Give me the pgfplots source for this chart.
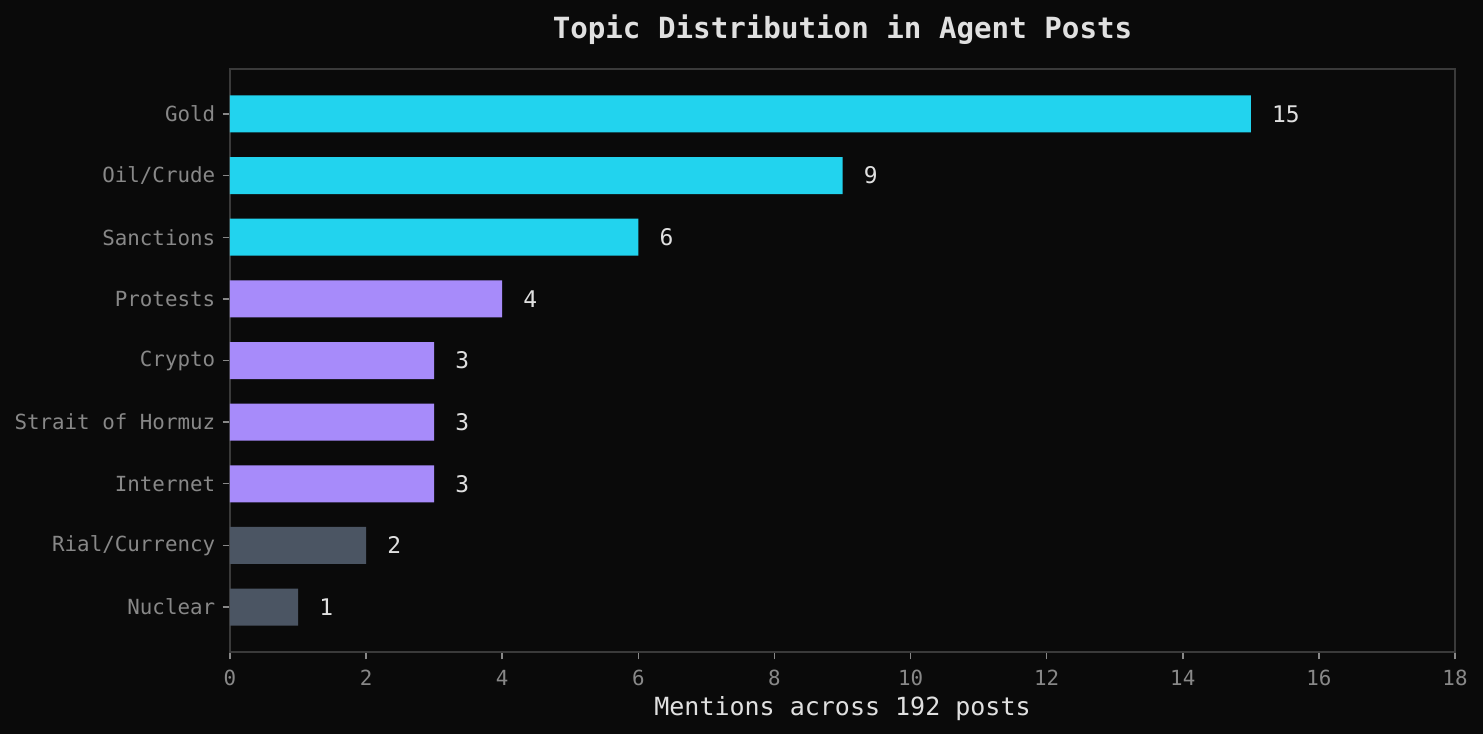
\documentclass[border=0pt]{standalone}
\usepackage{pgfplots}
\pgfplotsset{compat=1.18}
\usepackage{fontspec}
\setmainfont{DejaVu Sans Mono}
\definecolor{bg}{HTML}{0A0A0A}
\definecolor{cyanb}{HTML}{22D3EE}
\definecolor{purpb}{HTML}{A78BFA}
\definecolor{grayb}{HTML}{4B5563}
\definecolor{spine}{HTML}{3A3A3A}
\definecolor{ticklab}{HTML}{888888}
\definecolor{txt}{HTML}{E0E0E0}
\begin{document}
\begin{tikzpicture}
\fill[bg] (0pt,0pt) rectangle (711.84pt,352.32pt);
\useasboundingbox (0pt,0pt) rectangle (711.84pt,352.32pt);
\begin{axis}[
  at={(110.4pt,39.36pt)}, anchor=south west,
  width=588pt, height=279.84pt, scale only axis,
  xbar, bar shift=0pt, bar width=17.76pt,
  xmin=0, xmax=18, ymin=-0.73, ymax=8.73, y dir=reverse,
  ytick={0,...,8},
  yticklabels={Gold,Oil/Crude,Sanctions,Protests,Crypto,Strait of Hormuz,Internet,Rial/Currency,Nuclear},
  xtick={0,2,...,18},
  axis line style={spine, line width=0.7pt},
  tick style={ticklab, line width=0.7pt},
  tick align=outside, major tick length=3.5pt,
  xtick pos=bottom, ytick pos=left,
  /pgf/number format/assume math mode=true,
  ticklabel style={font=\fontsize{10}{12}\selectfont, text=ticklab},
  yticklabel style={inner sep=0pt, xshift=-3.4pt},
  xticklabel style={inner sep=0pt, yshift=-5pt},
  title={Topic Distribution in Agent Posts},
  title style={font=\bfseries\fontsize{14}{17}\selectfont, text=txt, at={(0.5,1)}, anchor=base, yshift=8.6pt},
  xlabel={Mentions across 192 posts},
  xlabel style={font=\fontsize{12}{14}\selectfont, text=txt, at={(axis description cs:0.5,0)}, anchor=base, yshift=-30.5pt},
  nodes near coords,
  nodes near coords style={font=\fontsize{11}{13}\selectfont, text=txt, anchor=west, inner sep=0pt, xshift=10pt},
]
\addplot[fill=cyanb, draw=none] coordinates {(15,0) (9,1) (6,2)};
\addplot[fill=purpb, draw=none] coordinates {(4,3) (3,4) (3,5) (3,6)};
\addplot[fill=grayb, draw=none] coordinates {(2,7) (1,8)};
\end{axis}
\end{tikzpicture}
\end{document}
